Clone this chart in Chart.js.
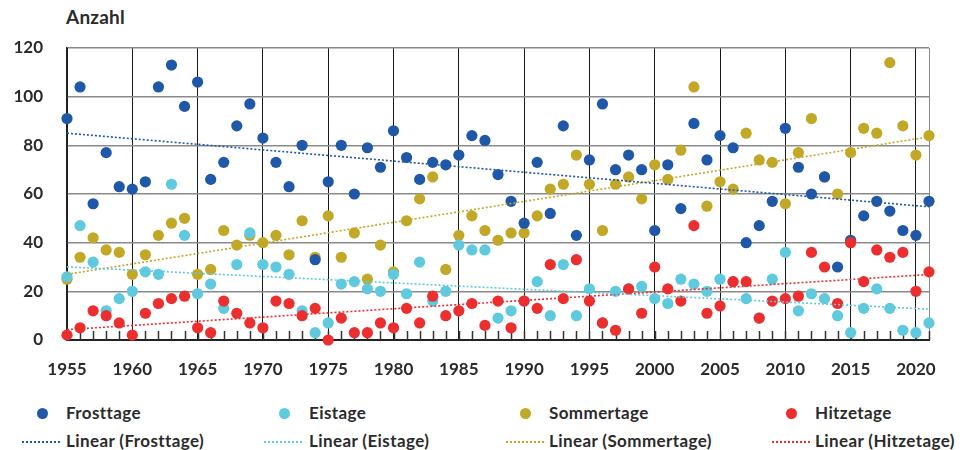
<!DOCTYPE html>
<html>
<head>
<meta charset="utf-8">
<script src="https://cdn.jsdelivr.net/npm/chart.js@4"></script>
<style>
  html, body { margin: 0; padding: 0; background: #fff; }
  body { width: 968px; height: 450px; position: relative; overflow: hidden;
         font-family: Lato, "Open Sans", sans-serif; font-weight: 700; color: #2b2b2b; }
  #wrap { position: absolute; left: 0; top: 0; width: 968px; height: 390px; }
  #yTitle { position: absolute; left: 66px; top: 5px; font-size: 19px; letter-spacing: 0.2px; }
  .leg { position: absolute; font-size: 17px; letter-spacing: 0.4px; white-space: nowrap; }
  .dot { position: absolute; width: 11px; height: 11px; border-radius: 50%; }
  .dash { position: absolute; height: 0; border-top: 2px dotted; }
</style>
</head>
<body>
<div id="yTitle">Anzahl</div>
<div id="wrap"><canvas id="c"></canvas></div>
<div id="legend"></div>
<script>
const years = [
  1955, 1956, 1957, 1958, 1959, 1960, 1961, 1962, 1963, 1964,
  1965, 1966, 1967, 1968, 1969, 1970, 1971, 1972, 1973, 1974,
  1975, 1976, 1977, 1978, 1979, 1980, 1981, 1982, 1983, 1984,
  1985, 1986, 1987, 1988, 1989, 1990, 1991, 1992, 1993, 1994,
  1995, 1996, 1997, 1998, 1999, 2000, 2001, 2002, 2003, 2004,
  2005, 2006, 2007, 2008, 2009, 2010, 2011, 2012, 2013, 2014,
  2015, 2016, 2017, 2018, 2019, 2020, 2021
];

const frosttage = [
  91, 104, 56, 77, 63, 62, 65, 104, 113, 96,
  106, 66, 73, 88, 97, 83, 73, 63, 80, 33,
  65, 80, 60, 79, 71, 86, 75, 66, 73, 72,
  76, 84, 82, 68, 57, 48, 73, 52, 88, 43,
  74, 97, 70, 76, 70, 45, 72, 54, 89, 74,
  84, 79, 40, 47, 57, 87, 71, 60, 67, 30,
  41, 51, 57, 53, 45, 43, 57
];

const eistage = [
  26, 47, 32, 12, 17, 20, 28, 27, 64, 43,
  19, 23, 13, 31, 44, 31, 30, 27, 12, 3,
  7, 23, 24, 21, 20, 27, 19, 32, 16, 20,
  39, 37, 37, 9, 12, 16, 24, 10, 31, 10,
  21, 7, 20, 21, 22, 17, 15, 25, 23, 20,
  25, 24, 17, 9, 25, 36, 12, 19, 17, 10,
  3, 13, 21, 13, 4, 3, 7
];

const sommertage = [
  25, 34, 42, 37, 36, 27, 35, 43, 48, 50,
  27, 29, 45, 39, 43, 40, 43, 35, 49, 34,
  51, 34, 44, 25, 39, 28, 49, 58, 67, 29,
  43, 51, 45, 41, 44, 44, 51, 62, 64, 76,
  64, 45, 64, 67, 58, 72, 66, 78, 104, 55,
  65, 62, 85, 74, 73, 56, 77, 91, 67, 60,
  77, 87, 85, 114, 88, 76, 84
];

const hitzetage = [
  2, 5, 12, 10, 7, 2, 11, 15, 17, 18,
  5, 3, 16, 11, 7, 5, 16, 15, 10, 13,
  0, 9, 3, 3, 7, 5, 13, 7, 18, 10,
  12, 15, 6, 16, 5, 16, 13, 31, 17, 33,
  16, 7, 4, 21, 11, 30, 21, 16, 47, 11,
  14, 24, 24, 9, 16, 17, 18, 36, 30, 15,
  40, 24, 37, 34, 36, 20, 28
];

const xTicks = [1955, 1960, 1965, 1970, 1975, 1980, 1985, 1990, 1995, 2000, 2005, 2010, 2015, 2020];

const series = [
  { name: "Frosttage",  values: frosttage,  color: "#1f58a8", order: 2 },
  { name: "Eistage",    values: eistage,    color: "#5fc9de", order: 3 },
  { name: "Sommertage", values: sommertage, color: "#c2a827", order: 4 },
  { name: "Hitzetage",  values: hitzetage,  color: "#ec2e2e", order: 1 }
];

function linFit(xs, ys) {
  const n = xs.length;
  let sx = 0, sy = 0, sxx = 0, sxy = 0;
  for (let i = 0; i < n; i++) {
    sx += xs[i]; sy += ys[i]; sxx += xs[i] * xs[i]; sxy += xs[i] * ys[i];
  }
  const b = (n * sxy - sx * sy) / (n * sxx - sx * sx);
  const a = (sy - b * sx) / n;
  return x => a + b * x;
}

const datasets = [];
for (const s of series) {
  datasets.push({
    type: "scatter",
    label: s.name,
    data: years.map((yr, i) => ({ x: yr, y: s.values[i] })),
    backgroundColor: s.color,
    borderWidth: 0,
    pointRadius: 5.6,
    order: s.order,
    clip: false
  });
}
for (const s of series) {
  const f = linFit(years, s.values);
  const x0 = years[0], x1 = years[years.length - 1];
  datasets.push({
    type: "line",
    label: "Linear (" + s.name + ")",
    data: [{ x: x0, y: f(x0) }, { x: x1, y: f(x1) }],
    borderColor: s.color,
    borderWidth: 1.6,
    borderDash: [2, 2],
    pointRadius: 0,
    fill: false,
    order: 0
  });
}

const yearTicks = {
  id: "yearTicks",
  beforeDatasetsDraw(chart) {
    const { ctx, chartArea, scales } = chart;
    ctx.save();
    ctx.strokeStyle = "#333";
    ctx.lineWidth = 1.5;
    for (const yr of years) {
      const x = Math.round(scales.x.getPixelForValue(yr)) + 0.5;
      ctx.beginPath();
      ctx.moveTo(x, chartArea.bottom - 9);
      ctx.lineTo(x, chartArea.bottom);
      ctx.stroke();
    }
    ctx.restore();
  }
};

const tickFont = { family: "Lato, 'Open Sans', sans-serif", size: 17, weight: "bold" };

new Chart(document.getElementById("c"), {
  data: { datasets },
  plugins: [yearTicks],
  options: {
    responsive: true,
    maintainAspectRatio: false,
    animation: false,
    events: [],
    layout: { padding: { top: 48, right: 39, left: 0, bottom: 0 } },
    plugins: { legend: { display: false }, tooltip: { enabled: false } },
    scales: {
      x: {
        type: "linear",
        min: 1955,
        max: 2021,
        afterBuildTicks: s => { s.ticks = xTicks.concat([2021]).map(v => ({ value: v })); },
        afterFit: s => { s.height = 50; },
        grid: {
          color: c => (c.tick && c.tick.value === 2021 ? "#8a8a8a" : "#1a1a1a"),
          lineWidth: 1,
          drawTicks: false
        },
        border: { display: true, color: "#222", width: 2 },
        ticks: {
          autoSkip: false,
          maxRotation: 0,
          padding: 19,
          color: "#2b2b2b",
          font: tickFont,
          callback: v => (xTicks.includes(v) ? String(v) : "")
        }
      },
      y: {
        min: 0,
        max: 120,
        afterFit: s => { s.width = 67; },
        grid: { color: "#8a8a8a", lineWidth: 1.6, drawTicks: false },
        border: { display: true, color: "#222", width: 1.5 },
        ticks: { stepSize: 20, padding: 24, color: "#2b2b2b", font: tickFont }
      }
    }
  }
});

// legend, two rows x four columns
const legCols = [
  { dot: 37, text: 66, line: 22 },
  { dot: 279, text: 309, line: 264 },
  { dot: 520, text: 549, line: 506 },
  { dot: 786, text: 815, line: 772 }
];
const legend = document.getElementById("legend");
series.forEach((s, i) => {
  const col = legCols[i];
  const d = document.createElement("div");
  d.className = "dot";
  d.style.left = col.dot + "px";
  d.style.top = "408px";
  d.style.background = s.color;
  legend.appendChild(d);
  const t = document.createElement("div");
  t.className = "leg";
  t.style.left = col.text + "px";
  t.style.top = "402px";
  t.textContent = s.name;
  legend.appendChild(t);
  const l = document.createElement("div");
  l.className = "dash";
  l.style.left = col.line + "px";
  l.style.top = "441px";
  l.style.width = "38px";
  l.style.borderColor = s.color;
  legend.appendChild(l);
  const t2 = document.createElement("div");
  t2.className = "leg";
  t2.style.left = col.text + "px";
  t2.style.top = "430px";
  t2.textContent = "Linear (" + s.name + ")";
  legend.appendChild(t2);
});
</script>
</body>
</html>
